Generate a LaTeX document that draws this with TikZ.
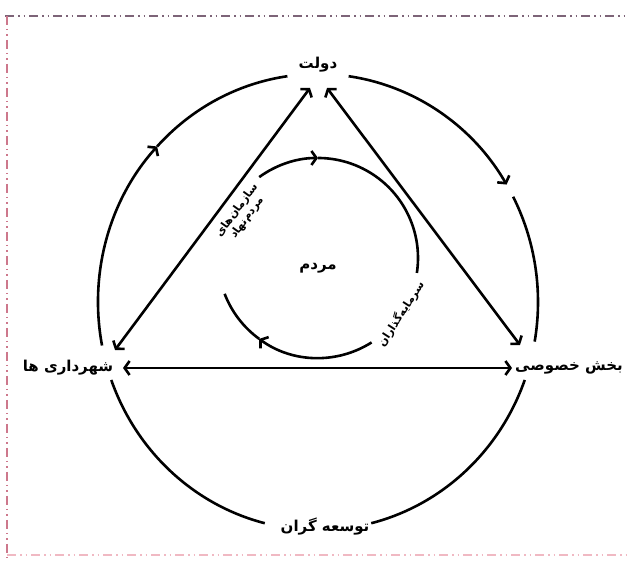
\documentclass[tikz,border=0pt]{standalone}
\usepackage{fontspec}
\usetikzlibrary{arrows.meta}
\TeXXeTstate=1
\newfontfamily\fa[Script=Arabic]{DejaVu Sans}
\newcommand{\zw}{\char"200C\relax}
\begin{document}
\begin{tikzpicture}[x=1pt,y=1pt,
  line/.style={line width=2.6pt, black},
  tipend/.style={-{Straight Barb[length=5pt,width=14pt]}},
  tipboth/.style={{Straight Barb[length=5pt,width=14pt]}-{Straight Barb[length=5pt,width=14pt]}},
  lbl/.style={font=\fa\bfseries\fontsize{15}{18}\selectfont, inner sep=1pt},
  small/.style={font=\fa\bfseries\fontsize{11}{12.5}\selectfont, inner sep=1pt, align=center},
  frame/.style={line width=1.6pt, dash pattern=on 9pt off 4pt on 1.5pt off 4pt on 1.5pt off 4pt}]
\useasboundingbox (0,0) rectangle (628,561);
\fill[white] (0,0) rectangle (628,561);
% frame
\draw[frame, color={rgb,255:red,125;green,100;blue,120}] (5,545) -- (628,545);
\draw[frame, color={rgb,255:red,205;green,120;blue,140}] (7,545) -- (7,0);
\draw[frame, color={rgb,255:red,240;green,185;blue,195}] (7,6) -- (628,6);

% centres
\coordinate (O) at (318,259);
\coordinate (I) at (318,303);

% labels
\node[lbl] (gov) at (318,496) {\beginR دولت\endR};
\node[lbl] (mun) at (68,193) {\beginR شهرداری ها\endR};
\node[lbl] (priv) at (569,193) {\beginR بخش خصوصی\endR};
\node[lbl] (dev) at (325,34) {\beginR توسعه گران\endR};
\node[lbl] (ppl) at (318,293) {\beginR مردم\endR};
\node[small, rotate=54] (ngo) at (242,347) {\beginR سازمان\zw های\endR\\\beginR مردم\zw نهاد\endR};
\node[small, rotate=57] (inv) at (401,247) {\beginR سرمایه\zw گذاران\endR};

% triangle connectors
\coordinate (gL) at (310,473);
\coordinate (gR) at (327,473);
\coordinate (mT) at (115,211);
\coordinate (pT) at (520,216);
\coordinate (mH) at (123,193);
\coordinate (pH) at (512,193);
\draw[line, tipboth] (mT) -- (gL);
\draw[line, tipboth] (pT) -- (gR);
\draw[line, tipboth] (mH) -- (pH);

% outer ellipse arcs
\def\rx{220}\def\ry{228}
\draw[line, tipend] (O) ++(191:\rx pt and \ry pt) arc[start angle=191, end angle=137, x radius=\rx, y radius=\ry];
\draw[line] (O) ++(137:\rx pt and \ry pt) arc[start angle=137, end angle=98, x radius=\rx, y radius=\ry];
\draw[line, tipend] (O) ++(82:\rx pt and \ry pt) arc[start angle=82, end angle=31, x radius=\rx, y radius=\ry];
\draw[line] (O) ++(27.5:\rx pt and \ry pt) arc[start angle=27.5, end angle=-10, x radius=\rx, y radius=\ry];
\draw[line] (O) ++(200:\rx pt and \ry pt) arc[start angle=200, end angle=256, x radius=\rx, y radius=\ry];
\draw[line] (O) ++(284:\rx pt and \ry pt) arc[start angle=284, end angle=340, x radius=\rx, y radius=\ry];

% inner circle arcs
\draw[line, tipend] (I) ++(126:100) arc[start angle=126, end angle=90, radius=100];
\draw[line] (I) ++(90:100) arc[start angle=90, end angle=-8.6, radius=100];
\draw[line, tipend] (I) ++(-57.6:100) arc[start angle=-57.6, end angle=-126, radius=100];
\draw[line] (I) ++(-126:100) arc[start angle=-126, end angle=-159, radius=100];
\end{tikzpicture}
\end{document}
